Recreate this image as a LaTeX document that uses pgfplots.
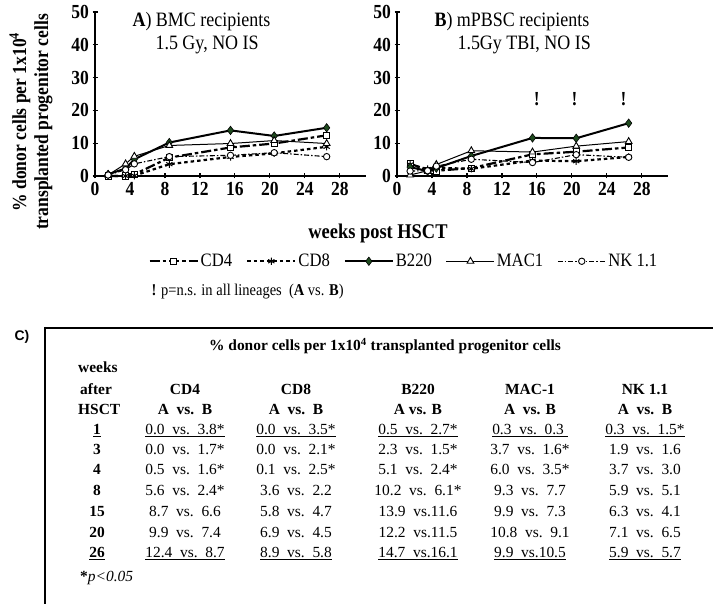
\documentclass[border=0pt]{standalone}
\usepackage{fontspec}
\setmainfont{Liberation Serif}
\newfontfamily\cf[FakeStretch=0.88]{Liberation Serif}
\newfontfamily\arialfont{Liberation Sans}
\usepackage{pgfplots}
\pgfplotsset{compat=1.18}
\definecolor{dgreen}{HTML}{1E4A1E}

\newcommand{\fs}[1]{\fontsize{#1}{#1}\selectfont}

\pgfplotsset{
  panel/.style={
    scale only axis, width=271bp, height=164bp,
    xmin=0, xmax=31, ymin=0, ymax=50,
    axis lines=left, axis line style={-, line width=1.7bp},
    xtick={0,4,...,28}, ytick={0,10,...,50},
    tick align=center, major tick length=5bp,
    tick style={black, line width=1.2bp},
    ticklabel style={font=\cf\fs{20}\bfseries},
    /pgf/number format/assume math mode=true,
    clip=false,
  },
  cdfour/.style={black, line width=2.2bp, dash pattern=on 10bp off 3bp on 3.5bp off 3bp,
    mark=square*, mark size=3.2bp, mark options={solid, fill=white, line width=0.8bp}},
  cdeight/.style={black, line width=2.2bp, dash pattern=on 3.5bp off 3bp,
    mark=asterisk, mark size=3.6bp, mark options={solid, line width=1bp}},
  btwo/.style={black, line width=2bp,
    mark=diamond*, mark size=4.2bp, mark options={solid, fill=dgreen, draw=black, line width=0.6bp}},
  macone/.style={black, line width=1bp,
    mark=triangle*, mark size=3.9bp, mark options={solid, fill=white, line width=0.9bp}},
  nkone/.style={black, line width=1.1bp, dash pattern=on 5bp off 2bp on 1.5bp off 2bp,
    mark=*, mark size=3.2bp, mark options={solid, fill=white, line width=0.9bp}},
}

\begin{document}
\begin{tikzpicture}[x=1bp,y=1bp]
\useasboundingbox (0,0) rectangle (713,604);

% panel A
\begin{axis}[panel, at={(95bp,428bp)}, anchor=south west,
  legend style={at={(1.14,-0.52)}, anchor=center, draw=none, fill=none,
    font=\cf\fs{19}, legend columns=5,
    /tikz/every even column/.append style={column sep=12bp}},
  legend image code/.code={\draw[mark repeat=2, mark phase=2]
    plot coordinates {(0bp,0bp) (24bp,0bp) (48bp,0bp)};},
]
\addplot[cdfour] coordinates {(1.5,0.0) (3.5,0.0) (4.5,0.5) (8.5,5.6) (15.5,8.7) (20.5,9.9) (26.5,12.4)};
\addplot[cdeight] coordinates {(1.5,0.0) (3.5,0.0) (4.5,0.1) (8.5,3.6) (15.5,5.8) (20.5,6.9) (26.5,8.9)};
\addplot[btwo] coordinates {(1.5,0.5) (3.5,2.3) (4.5,5.1) (8.5,10.2) (15.5,13.9) (20.5,12.2) (26.5,14.7)};
\addplot[macone] coordinates {(1.5,0.3) (3.5,3.7) (4.5,6.0) (8.5,9.3) (15.5,9.9) (20.5,10.8) (26.5,9.9)};
\addplot[nkone] coordinates {(1.5,0.3) (3.5,1.9) (4.5,3.7) (8.5,5.9) (15.5,6.3) (20.5,7.1) (26.5,5.9)};
\addlegendentry{CD4}
\addlegendentry{CD8}
\addlegendentry{B220}
\addlegendentry{MAC1}
\addlegendentry{NK 1.1}
\end{axis}

% panel B
\begin{axis}[panel, at={(397bp,428bp)}, anchor=south west]
\addplot[cdfour] coordinates {(1.5,3.8) (3.5,1.7) (4.5,1.6) (8.5,2.4) (15.5,6.6) (20.5,7.4) (26.5,8.7)};
\addplot[cdeight] coordinates {(1.5,3.5) (3.5,2.1) (4.5,2.5) (8.5,2.2) (15.5,4.7) (20.5,4.5) (26.5,5.8)};
\addplot[btwo] coordinates {(1.5,2.7) (3.5,1.5) (4.5,2.4) (8.5,6.1) (15.5,11.6) (20.5,11.5) (26.5,16.1)};
\addplot[macone] coordinates {(1.5,0.3) (3.5,1.6) (4.5,3.5) (8.5,7.7) (15.5,7.3) (20.5,9.1) (26.5,10.5)};
\addplot[nkone] coordinates {(1.5,1.5) (3.5,1.6) (4.5,3.0) (8.5,5.1) (15.5,4.1) (20.5,6.5) (26.5,5.7)};
\node[font=\cf\fs{20}\bfseries] at (axis cs:16,23.5) {!};
\node[font=\cf\fs{20}\bfseries] at (axis cs:20.3,23.5) {!};
\node[font=\cf\fs{20}\bfseries] at (axis cs:25.9,23.5) {!};
\end{axis}

% titles and labels
\node[anchor=west, font=\cf\fs{20.5}] at (129,582) {\textbf{A}) BMC recipients};
\node[anchor=west, font=\cf\fs{20.5}] at (152,559) {1.5 Gy, NO IS};
\node[anchor=west, font=\cf\fs{20.5}] at (431,582) {\textbf{B}) mPBSC recipients};
\node[anchor=west, font=\cf\fs{20.5}] at (454,559) {1.5Gy TBI, NO IS};
\node[rotate=90, align=center, font=\cf\fontsize{20}{22}\selectfont\bfseries] at (31,482)
  {\% donor cells per 1x10\textsuperscript{4}\\transplanted progenitor cells};
\node[font=\cf\fs{21}\bfseries] at (378,371) {weeks post HSCT};
\node[anchor=west, font=\cf\fs{16.5}] at (148,312)
  {\textbf{!} p=n.s. in all lineages\ \ (\textbf{A} vs. \textbf{B})};

% table C
\node[font=\arialfont\fs{14}\bfseries] at (22,267) {C)};
\draw[line width=2bp] (45,276) -- (720,276);
\draw[line width=2.6bp] (45,277) -- (45,-5);

\begin{scope}[every node/.style={font=\fs{15.5}, anchor=base, inner sep=0pt}]
\node[font=\fs{15.5}\bfseries] at (385,253) {\% donor cells per 1x10\textsuperscript{4} transplanted progenitor cells};
\node[font=\fs{15.5}\bfseries, anchor=base west] at (78,231) {weeks};
\node[font=\fs{15.5}\bfseries, anchor=base west] at (80,209) {after};
\node[font=\fs{15.5}\bfseries, anchor=base west] at (78,189) {HSCT};
% headers
\node[font=\fs{15.5}\bfseries] at (185,209) {CD4};
\node[font=\fs{15.5}\bfseries] at (296,209) {CD8};
\node[font=\fs{15.5}\bfseries] at (418,209) {B220};
\node[font=\fs{15.5}\bfseries] at (530,209) {MAC-1};
\node[font=\fs{15.5}\bfseries] at (645,209) {NK 1.1};
\node[font=\fs{15.5}\bfseries] at (185,189) {A\ \ vs.\ \ B};
\node[font=\fs{15.5}\bfseries] at (296,189) {A\ \ vs.\ \ B};
\node[font=\fs{15.5}\bfseries] at (418,189) {A vs. B};
\node[font=\fs{15.5}\bfseries] at (530,189) {A\ \ vs. B};
\node[font=\fs{15.5}\bfseries] at (645,189) {A\ \ vs.\ \ B};
% week column
\node[font=\fs{15.5}\bfseries] at (97,169) {\underline{1}};
\node[font=\fs{15.5}\bfseries] at (97,149) {3};
\node[font=\fs{15.5}\bfseries] at (97,129) {4};
\node[font=\fs{15.5}\bfseries] at (97,108) {8};
\node[font=\fs{15.5}\bfseries] at (97,87) {15};
\node[font=\fs{15.5}\bfseries] at (97,66) {20};
\node[font=\fs{15.5}\bfseries] at (97,46) {\underline{26}};
% row 1
\node at (185,169) {\underline{0.0\ \ vs.\ \ 3.8*}};
\node at (296,169) {\underline{0.0\ \ vs.\ \ 3.5*}};
\node at (418,169) {\underline{0.5\ \ vs.\ \ 2.7*}};
\node at (530,169) {\underline{0.3\ \ vs.\ \ 0.3\ }};
\node at (645,169) {\underline{0.3\ \ vs.\ \ 1.5*}};
% row 3
\node at (185,149) {0.0\ \ vs.\ \ 1.7*};
\node at (296,149) {0.0\ \ vs.\ \ 2.1*};
\node at (418,149) {2.3\ \ vs.\ \ 1.5*};
\node at (530,149) {3.7\ \ vs.\ \ 1.6*};
\node at (645,149) {1.9\ \ vs.\ \ 1.6\ };
% row 4
\node at (185,129) {0.5\ \ vs.\ \ 1.6*};
\node at (296,129) {0.1\ \ vs.\ \ 2.5*};
\node at (418,129) {5.1\ \ vs.\ \ 2.4*};
\node at (530,129) {6.0\ \ vs.\ \ 3.5*};
\node at (645,129) {3.7\ \ vs.\ \ 3.0\ };
% row 8
\node at (185,108) {5.6\ \ vs.\ \ 2.4*};
\node at (296,108) {3.6\ \ vs.\ \ 2.2\ };
\node at (418,108) {10.2\ \ vs.\ \ 6.1*};
\node at (530,108) {9.3\ \ vs.\ \ 7.7\ };
\node at (645,108) {5.9\ \ vs.\ \ 5.1\ };
% row 15
\node at (185,87) {8.7\ \ vs.\ \ 6.6\ };
\node at (296,87) {5.8\ \ vs.\ \ 4.7\ };
\node at (418,87) {13.9\ \ vs.11.6\ };
\node at (530,87) {9.9\ \ vs.\ \ 7.3\ };
\node at (645,87) {6.3\ \ vs.\ \ 4.1\ };
% row 20
\node at (185,66) {9.9\ \ vs.\ \ 7.4\ };
\node at (296,66) {6.9\ \ vs.\ \ 4.5\ };
\node at (418,66) {12.2\ \ vs.11.5\ };
\node at (530,66) {10.8\ \ vs.\ \ 9.1\ };
\node at (645,66) {7.1\ \ vs.\ \ 6.5\ };
% row 26
\node at (185,46) {\underline{12.4\ \ vs.\ \ 8.7}};
\node at (296,46) {\underline{8.9\ \ vs.\ \ 5.8}};
\node at (418,46) {\underline{14.7\ \ vs.16.1}};
\node at (530,46) {\underline{9.9\ \ vs.10.5}};
\node at (645,46) {\underline{5.9\ \ vs.\ \ 5.7}};
\node[anchor=base west] at (80,22) {\textbf{*}\textit{p\textless 0.05}};
\end{scope}
\end{tikzpicture}
\end{document}
